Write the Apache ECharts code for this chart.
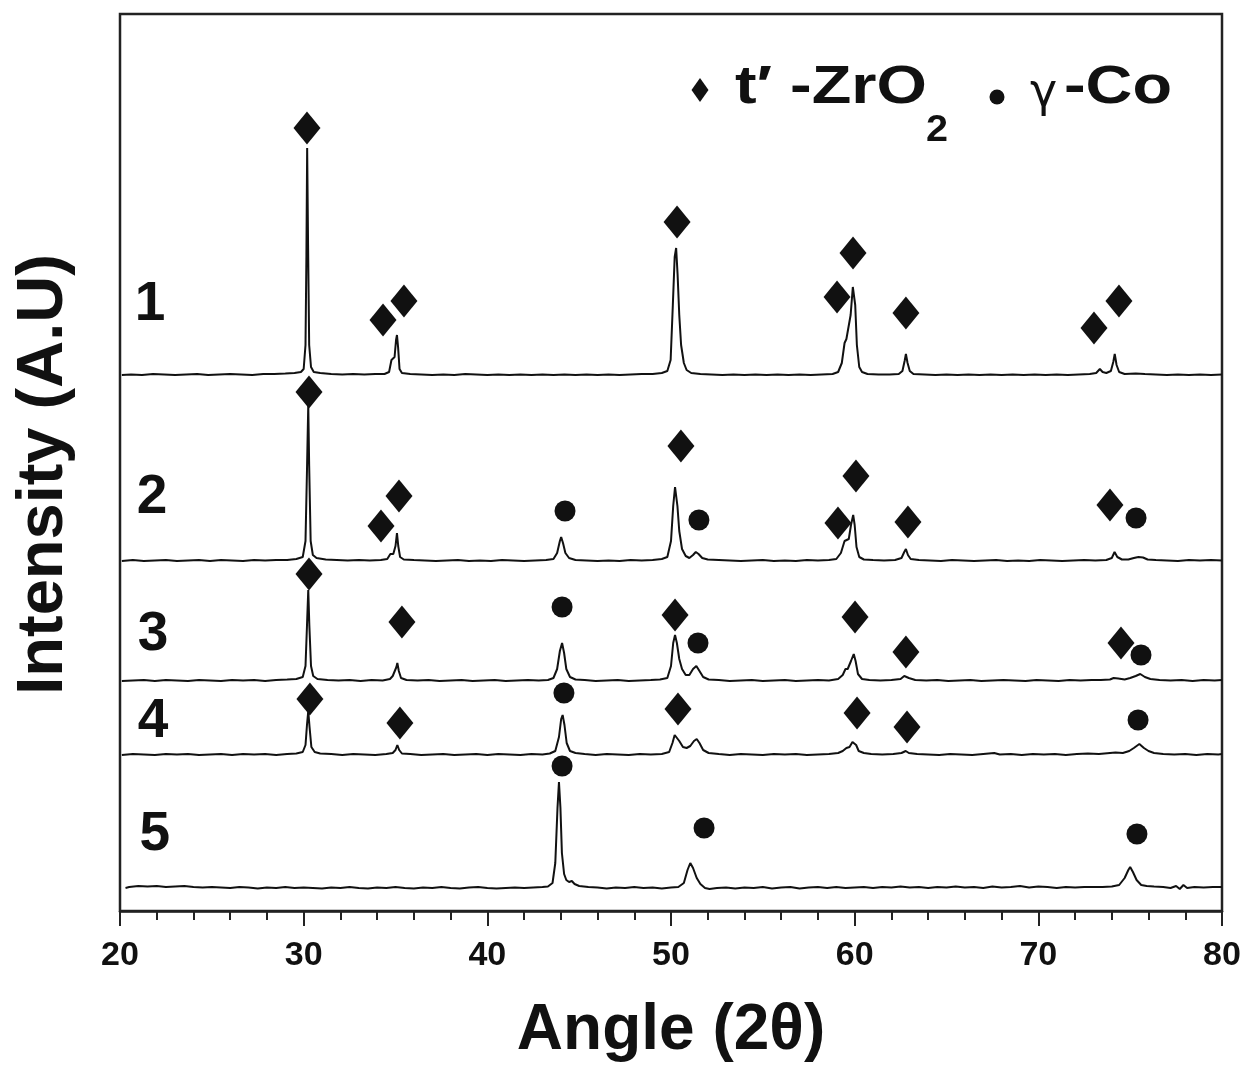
<!DOCTYPE html>
<html>
<head>
<meta charset="utf-8">
<title>XRD patterns</title>
<script src="https://cdn.jsdelivr.net/npm/echarts@6/dist/echarts.min.js"></script>
<style>
  html, body { margin: 0; padding: 0; background: #ffffff; }
  #chart { width: 1248px; height: 1078px; }
</style>
</head>
<body>
<div id="chart"></div>
<script>
// Diffraction patterns, [2θ (deg), intensity above the pattern's own baseline]
const pattern1 = [
  [20.1,0],[20.6,0.5],[21.2,0],[21.8,1],[22.4,0.5],[23,0],[23.6,0.5],[24.2,1],[24.8,0],[25.4,0.5],[26,1],[26.6,0.5],[27.2,0],[27.8,1],[28.4,1],[29,1.5],[29.5,2],[29.85,3],[30.0,6],[30.1,30],[30.15,120],[30.19,227],[30.24,130],[30.3,30],[30.4,8],[30.55,3],[30.9,2],[31.5,1],[32.1,0.5],[32.7,1],[33.3,0.5],[33.9,1],[34.4,1],[34.65,3],[34.78,15],[34.85,13],[34.95,18],[35.03,35],[35.08,40],[35.14,28],[35.22,6],[35.35,2],[35.8,1],[36.4,0.5],[37,0],[37.6,0.5],[38.2,0],[38.8,1],[39.4,0.5],[40,0],[40.6,0.5],[41.2,0],[41.8,0.5],[42.4,0],[43,0.5],[43.6,0],[44.2,0.5],[44.8,0],[45.4,0.5],[46,0],[46.6,0.5],[47.2,0],[47.8,0.5],[48.4,1],[49,1],[49.5,2],[49.8,4],[49.98,15],[50.1,70],[50.2,118],[50.28,127],[50.36,100],[50.45,60],[50.55,30],[50.7,12],[50.85,5],[51.1,2],[51.6,1],[52.2,0.5],[52.8,0],[53.4,0.5],[54,0],[54.6,0.5],[55.2,0],[55.8,0.5],[56.4,0],[57,0.5],[57.6,0],[58.2,0.5],[58.8,1],[59.1,3],[59.3,12],[59.45,32],[59.55,36],[59.65,38],[59.78,60],[59.9,88],[59.95,90],[60.03,70],[60.12,30],[60.25,8],[60.4,3],[60.7,1],[61.3,0.5],[61.9,0.5],[62.4,1],[62.6,4],[62.72,14],[62.79,21],[62.88,12],[63.0,4],[63.2,1],[63.8,0.5],[64.4,0],[65,0.5],[65.6,0],[66.2,0.5],[66.8,0],[67.4,0.5],[68,0],[68.6,0.5],[69.2,0],[69.8,0.5],[70.4,0],[71,0.5],[71.6,0],[72.2,0.5],[72.8,1],[73.15,2],[73.35,6],[73.5,3],[73.7,2],[73.95,4],[74.08,13],[74.16,21],[74.26,10],[74.4,3],[74.7,1],[75.3,1.5],[75.8,1],[76.4,0.5],[77,0],[77.6,0.5],[78.2,0],[78.8,0.5],[79.4,0],[80,0.5]
];
const pattern2 = [
  [20.1,0],[20.7,1],[21.3,0],[21.9,0.5],[22.5,1],[23.1,0],[23.7,0.5],[24.3,1],[24.9,0],[25.5,1],[26.1,0.5],[26.7,0],[27.3,1],[27.9,0.5],[28.5,1],[29.1,1],[29.6,2],[29.95,4],[30.1,20],[30.18,90],[30.25,156],[30.3,95],[30.38,20],[30.5,6],[30.7,3],[31.2,1.5],[31.8,1],[32.4,0.5],[33,1],[33.6,0.5],[34.2,1],[34.55,2],[34.72,7],[34.8,9],[34.88,7],[35.0,15],[35.08,28],[35.15,15],[35.25,4],[35.45,1.5],[36,1],[36.6,0.5],[37.2,0],[37.8,0.5],[38.4,1],[39,0],[39.6,0.5],[40.2,0],[40.8,1],[41.4,0.5],[42,0],[42.6,0.5],[43.2,1],[43.6,2],[43.8,8],[43.95,20],[44.02,24],[44.12,18],[44.25,8],[44.45,3],[44.8,1],[45.4,0.5],[46,0],[46.6,0.5],[47.2,0],[47.8,1],[48.4,0.5],[49,1],[49.5,2],[49.8,4],[50.0,20],[50.12,55],[50.22,74],[50.27,76],[50.35,55],[50.45,30],[50.6,12],[50.8,5],[51.0,3],[51.2,6],[51.35,9],[51.5,7],[51.7,3],[52,1.5],[52.6,1],[53.2,0.5],[53.8,0],[54.4,0.5],[55,1],[55.6,0],[56.2,0.5],[56.8,0],[57.4,1],[58,0.5],[58.6,1],[59.0,2],[59.25,8],[59.45,20],[59.55,21],[59.68,22],[59.8,36],[59.92,46],[60.0,36],[60.1,14],[60.25,4],[60.5,1.5],[61,1],[61.6,0.5],[62.2,1],[62.55,3],[62.7,9],[62.79,12],[62.9,6],[63.05,2],[63.5,1],[64.1,0.5],[64.7,0],[65.3,1],[65.9,0.5],[66.5,0],[67.1,0.5],[67.7,1],[68.3,0],[68.9,0.5],[69.5,0],[70.1,1],[70.7,0.5],[71.3,0],[71.9,0.5],[72.5,1],[73.1,0.5],[73.7,1],[74.0,3],[74.15,9],[74.3,4],[74.55,1.5],[74.9,1.5],[75.2,3],[75.45,4],[75.7,3.5],[75.95,1.5],[76.4,1],[77,0.5],[77.6,0],[78.2,1],[78.8,0.5],[79.4,1],[80,0.5]
];
const pattern3 = [
  [20.1,0],[20.7,0.5],[21.3,1],[21.9,0],[22.5,1],[23.1,0.5],[23.7,0],[24.3,1],[24.9,0.5],[25.5,0],[26.1,1],[26.7,0.5],[27.3,1],[27.9,0],[28.5,1],[29.1,1.5],[29.6,2],[29.95,4],[30.1,15],[30.18,55],[30.25,91],[30.31,55],[30.4,15],[30.52,5],[30.75,2],[31.3,1],[31.9,0.5],[32.5,1],[33.1,0],[33.7,1],[34.3,0.5],[34.7,2],[34.85,5],[34.95,6],[35.05,14],[35.1,18],[35.18,10],[35.3,3],[35.6,1],[36.2,0.5],[36.8,1],[37.4,0],[38,0.5],[38.6,1],[39.2,0],[39.8,0.5],[40.4,1],[41,0],[41.6,0.5],[42.2,1],[42.8,0.5],[43.3,1],[43.6,3],[43.8,12],[43.95,30],[44.07,38],[44.18,28],[44.3,12],[44.5,4],[44.8,1.5],[45.3,1],[45.9,0],[46.5,0.5],[47.1,1],[47.7,0],[48.3,0.5],[48.9,1],[49.4,1.5],[49.8,3],[50.0,15],[50.12,38],[50.22,46],[50.32,38],[50.45,22],[50.6,12],[50.8,6],[51.0,6],[51.2,12],[51.38,15],[51.55,10],[51.75,4],[52.05,1.5],[52.6,1],[53.2,0],[53.8,0.5],[54.4,1],[55,0],[55.6,0.5],[56.2,1],[56.8,0],[57.4,0.5],[58,1],[58.6,0.5],[59.1,2],[59.35,6],[59.5,12],[59.62,12],[59.8,20],[59.95,27],[60.05,20],[60.18,7],[60.4,2],[60.8,1],[61.4,0.5],[62,1],[62.5,2],[62.7,5],[62.8,6],[62.95,3],[63.3,1],[63.9,0.5],[64.5,1],[65.1,0],[65.7,0.5],[66.3,1],[66.9,0],[67.5,0.5],[68.1,1],[68.7,0.5],[69.3,0],[69.9,1],[70.5,0.5],[71.1,0],[71.7,1],[72.3,0.5],[72.9,1],[73.4,1],[73.9,1.5],[74.1,3],[74.2,5],[74.35,2.5],[74.7,1.5],[75.0,3],[75.3,5],[75.55,7],[75.8,4],[76.1,2],[76.6,1],[77.2,0.5],[77.8,1],[78.4,0],[79,1],[79.6,0.5],[80,1]
];
const pattern4 = [
  [20.1,0],[20.7,1],[21.3,0.5],[21.9,0],[22.5,1],[23.1,0.5],[23.7,1],[24.3,0],[24.9,0.5],[25.5,1],[26.1,0],[26.7,1],[27.3,0.5],[27.9,1],[28.5,0],[29.1,1],[29.6,1.5],[29.95,3],[30.1,10],[30.18,30],[30.25,44],[30.32,28],[30.42,8],[30.6,3],[30.9,1.5],[31.5,1],[32.1,0],[32.7,1],[33.3,0.5],[33.9,0],[34.5,1],[34.85,2],[35.0,5],[35.1,10],[35.2,5],[35.35,1.5],[35.8,1],[36.4,0],[37,0.5],[37.6,1],[38.2,0],[38.8,0.5],[39.4,1],[40,0],[40.6,1],[41.2,0.5],[41.8,0],[42.4,1],[43,0.5],[43.4,1.5],[43.7,4],[43.9,18],[44.02,36],[44.1,40],[44.2,30],[44.32,12],[44.5,4],[44.8,2],[45.3,1],[45.9,0],[46.5,1],[47.1,0.5],[47.7,0],[48.3,1],[48.9,0.5],[49.5,1],[49.9,3],[50.08,12],[50.2,20],[50.3,21],[50.45,14],[50.65,8],[50.85,7],[51.05,9],[51.25,14],[51.4,16],[51.55,12],[51.75,5],[52.05,2],[52.6,1],[53.2,0],[53.8,1],[54.4,0.5],[55,0],[55.6,1],[56.2,0.5],[56.8,1],[57.4,0],[58,0.5],[58.6,1],[59.1,2],[59.35,4],[59.55,7],[59.72,8],[59.88,13],[59.97,14],[60.08,10],[60.22,4],[60.5,2],[60.9,1],[61.5,0.5],[62.1,1],[62.55,2],[62.78,4],[62.95,2],[63.4,1],[64,0.5],[64.6,0],[65.2,1],[65.8,0.5],[66.4,0],[67,1],[67.6,2],[67.9,0.5],[68.5,1],[69.1,0],[69.7,1],[70.3,0.5],[70.9,1],[71.5,0],[72.1,1],[72.7,1.5],[73.3,1],[73.9,2],[74.2,2.5],[74.6,2],[74.95,4],[75.2,7],[75.5,11],[75.75,7],[76.0,4],[76.3,2],[76.8,1],[77.4,0.5],[78,1],[78.6,0],[79.2,1],[79.8,0.5],[80,1]
];
const pattern5 = [
  [20.3,0],[20.5,1],[21,2],[21.5,1.5],[22,2],[22.5,1],[23,1.5],[23.5,2],[24,1],[24.5,0.5],[25,1],[25.5,0.5],[26,0],[26.5,1],[27,0.5],[27.5,-0.5],[28,0.5],[28.5,0],[29,1],[29.5,0],[30,0.5],[30.5,0],[31,-0.5],[31.5,0.5],[32,0],[32.5,1],[33,0],[33.5,-0.5],[34,0.5],[34.5,0],[35,1],[35.5,0],[36,-0.5],[36.5,0.5],[37,0],[37.5,1],[38,0],[38.5,-0.5],[39,0.5],[39.5,1],[40,0],[40.5,-0.5],[41,0],[41.5,0.5],[42,0],[42.5,0.5],[43,1],[43.3,1.5],[43.55,5],[43.7,25],[43.82,80],[43.9,106],[43.98,80],[44.06,35],[44.18,14],[44.3,8],[44.45,6],[44.6,7],[44.75,4],[45,2],[45.5,1],[46,0.5],[46.5,-0.5],[47,0.5],[47.5,0],[48,1],[48.5,0],[49,0.5],[49.5,-0.5],[50,0.5],[50.4,1],[50.7,5],[50.9,18],[51.05,25],[51.2,20],[51.4,10],[51.6,4],[51.85,0],[52.1,-1],[52.5,0],[53,0.5],[53.5,-0.5],[54,0.5],[54.5,0],[55,1],[55.5,-0.5],[56,0.5],[56.5,1],[57,-0.5],[57.5,0.5],[58,1],[58.5,0],[59,1],[59.5,0],[60,0.5],[60.5,1],[61,0],[61.5,1],[62,0.5],[62.5,1.5],[63,0.5],[63.5,1],[64,0],[64.5,1],[65,0.5],[65.5,1.5],[66,0.5],[66.5,1],[67,0],[67.5,1.5],[68,0.5],[68.5,1],[69,2],[69.5,0.5],[70,1.5],[70.5,1],[71,0],[71.5,1],[72,0.5],[72.5,1],[73,1],[73.5,1],[74,1.5],[74.4,3],[74.7,10],[74.9,18],[75.0,21],[75.15,16],[75.35,8],[75.6,3],[75.9,2],[76.3,1.5],[76.8,1],[77.2,0],[77.5,2],[77.7,-1],[77.9,3],[78.1,0],[78.5,1],[79,0.5],[79.5,1],[80,1]
];

// Vertical offsets used to stack the patterns (1 at the top, 5 at the bottom)
const patternNames = ['1', '2', '3', '4', '5'];
const patternOffsets = [536, 350, 230, 156, 23];
const patterns = [pattern1, pattern2, pattern3, pattern4, pattern5];

// Where each sample number is written: [2θ, stacked intensity, label]
const sampleLabels = [
  [21.63, 606, '1'], [21.74, 413, '2'], [21.8, 276, '3'], [21.8, 189, '4'], [21.9, 76, '5']
];

// Phase identification marks: [2θ, stacked intensity]
const zirconiaMarks = [
  [30.18, 783], [34.32, 591], [35.46, 610], [50.33, 689], [59.04, 614], [59.91, 658], [62.79, 598], [73.03, 583], [74.39, 610],
  [30.29, 519], [34.21, 385], [35.19, 415], [50.54, 465], [59.09, 388], [60.07, 435], [62.90, 389], [73.90, 406],
  [30.29, 337], [35.35, 289], [50.22, 296], [60.02, 294], [62.79, 259], [74.50, 268],
  [30.34, 212], [35.24, 188], [50.38, 202], [60.13, 198], [62.85, 184]
];
const cobaltMarks = [
  [44.23, 400], [51.52, 391], [75.32, 393],
  [44.07, 304], [51.47, 268], [75.59, 256],
  [44.17, 218], [75.43, 191],
  [44.07, 145], [51.80, 83], [75.37, 77]
];

const xTicks = { min: 20, max: 80, interval: 10 };
const yRange = { min: 0, max: 897 };

const FONT = '"Liberation Sans", Arial, Helvetica, sans-serif';
const INK = '#111111';

const chart = echarts.init(document.getElementById('chart'), null, { renderer: 'canvas' });

const lineSeries = patterns.map((p, i) => ({
  name: patternNames[i],
  type: 'line',
  data: p.map(([a, v]) => [a, v + patternOffsets[i]]),
  showSymbol: false,
  symbol: 'none',
  lineStyle: { color: INK, width: 2 },
  z: 3
}));

// legend key drawn as wide bold text next to small symbols
const keyText = (x, y, text, size, extra) => Object.assign({
  type: 'text',
  x: x, y: y,
  scaleX: 1.2,
  style: { x: 0, y: 0, text: text, font: 'bold ' + size + 'px ' + FONT, fill: INK, textAlign: 'left', textVerticalAlign: 'middle' }
}, extra || {});

const option = {
  animation: false,
  backgroundColor: '#ffffff',
  grid: {
    left: 120, right: 26, top: 14, bottom: 167,
    show: true, borderColor: '#222222', borderWidth: 2.5, backgroundColor: 'transparent'
  },
  xAxis: {
    type: 'value',
    min: xTicks.min, max: xTicks.max, interval: xTicks.interval,
    name: 'Angle (2θ)',
    nameLocation: 'middle',
    nameGap: 88,
    nameTextStyle: { fontFamily: FONT, fontWeight: 'bold', fontSize: 64, color: INK },
    axisLine: { show: true, onZero: false, lineStyle: { color: '#222222', width: 2.5 } },
    axisTick: { show: true, inside: false, length: 15, lineStyle: { color: '#222222', width: 2 } },
    minorTick: { show: true, splitNumber: 5, length: 9, lineStyle: { color: '#222222', width: 2 } },
    axisLabel: { fontFamily: FONT, fontWeight: 'bold', fontSize: 34, color: INK, margin: 28 },
    splitLine: { show: false }
  },
  yAxis: {
    type: 'value',
    min: yRange.min, max: yRange.max,
    name: 'Intensity (A.U)',
    nameLocation: 'middle',
    nameGap: 43,
    nameTextStyle: { fontFamily: FONT, fontWeight: 'bold', fontSize: 65, color: INK, padding: [0, 24, 0, 0] },
    axisLine: { show: false },
    axisTick: { show: false },
    axisLabel: { show: false },
    splitLine: { show: false }
  },
  graphic: [
    {
      type: 'polygon',
      shape: { points: [[700, 78], [708.5, 90], [700, 102], [691.5, 90]] },
      style: { fill: INK }
    },
    keyText(735, 88, 't′ -ZrO', 54),
    keyText(926, 131, '2', 36, { scaleX: 1.1 }),
    {
      type: 'circle',
      shape: { cx: 997, cy: 97, r: 7.5 },
      style: { fill: INK }
    },
    {
      type: 'text',
      style: { x: 1030, y: 94, text: 'γ', font: '46px "DejaVu Sans", sans-serif', fill: INK, textAlign: 'left', textVerticalAlign: 'middle' }
    },
    keyText(1064, 88, '-Co', 54)
  ],
  series: [
    ...lineSeries,
    {
      name: 't′-ZrO2',
      type: 'scatter',
      data: zirconiaMarks,
      symbol: 'diamond',
      symbolSize: [27, 33],
      itemStyle: { color: INK, opacity: 1 },
      z: 4
    },
    {
      name: 'γ-Co',
      type: 'scatter',
      data: cobaltMarks,
      symbol: 'circle',
      symbolSize: 21,
      itemStyle: { color: INK, opacity: 1 },
      z: 4
    },
    {
      name: 'samples',
      type: 'scatter',
      data: sampleLabels,
      symbolSize: 1,
      itemStyle: { color: 'rgba(0,0,0,0)', opacity: 1 },
      label: {
        show: true,
        position: 'inside',
        formatter: (p) => p.value[2],
        fontFamily: FONT, fontWeight: 'bold', fontSize: 55, color: INK
      },
      z: 5
    }
  ]
};

chart.setOption(option);
</script>
</body>
</html>
